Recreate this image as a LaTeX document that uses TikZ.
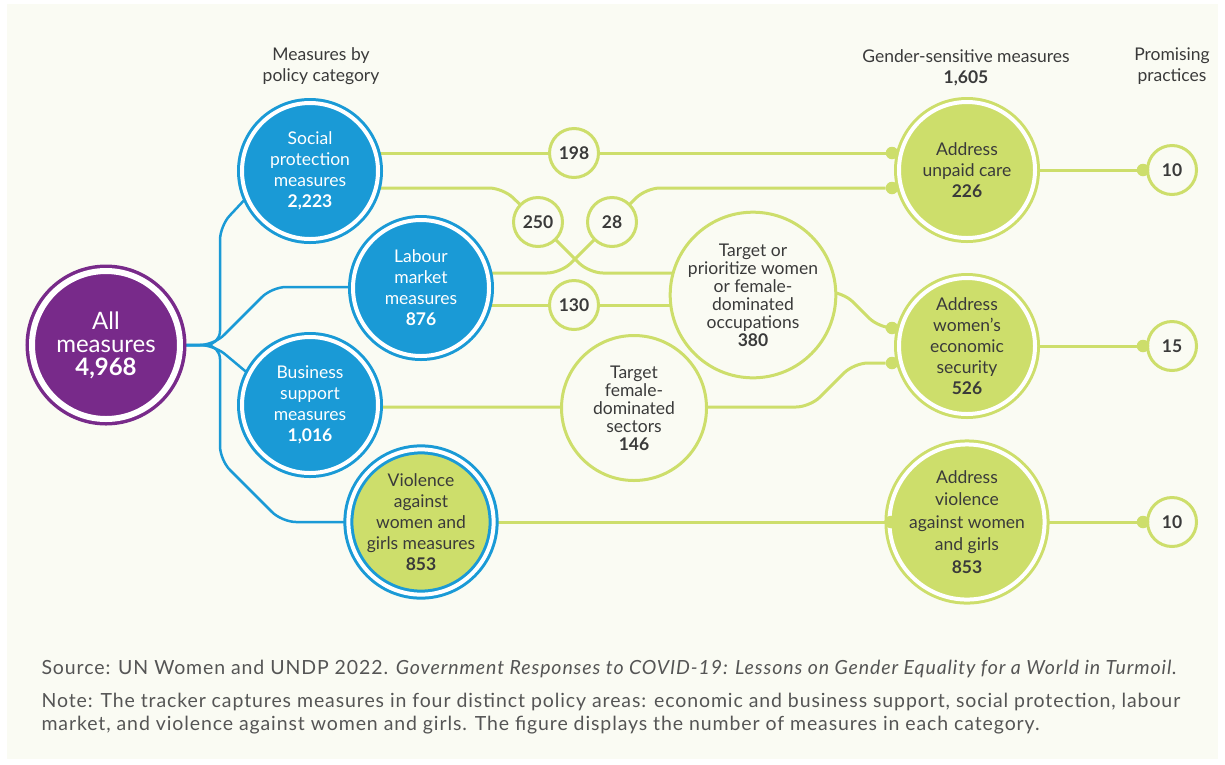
\documentclass[tikz,border=0pt]{standalone}
\usepackage{fontspec}
\setmainfont{Lato}
\usetikzlibrary{positioning}
\definecolor{cream}{HTML}{FAFBF3}
\definecolor{unblue}{HTML}{1A9AD6}
\definecolor{unpurple}{HTML}{782A8A}
\definecolor{unlime}{HTML}{CDDE6B}
\definecolor{inkgray}{HTML}{3A3A3A}
\definecolor{footgray}{HTML}{555555}
\pgfdeclarelayer{paper}
\pgfdeclarelayer{wires}
\pgfsetlayers{paper,wires,main}

\begin{document}
\begin{tikzpicture}[x=1pt, y=-1pt,
  txt/.style={font=\fontsize{17.5}{21}\selectfont, align=center, text=inkgray},
  bigc/.style={circle, inner sep=0pt, minimum size=136pt, line width=3pt,
    double=white, double distance=4pt, txt},
  catc/.style={bigc, fill=unblue, draw=unblue, text=white},
  addc/.style={bigc, fill=unlime, draw=unlime},
  openc/.style={circle, inner sep=0pt, draw=unlime, line width=3pt, fill=cream, txt,
    font=\fontsize{17.5}{18}\selectfont},
  numc/.style={openc, minimum size=49pt, font=\fontsize{17.5}{20}\selectfont\bfseries},
  gdot/.style={circle, fill=unlime, inner sep=0pt, minimum size=12.5pt},
  gline/.style={draw=unlime, line width=3pt, rounded corners=14pt},
  bline/.style={draw=unblue, line width=2.5pt, rounded corners=14pt},
  foot/.style={font=\fontsize{19.5}{23}\selectfont\addfontfeature{LetterSpace=4.6},
    text=footgray, anchor=base west}]
  \useasboundingbox (0,0) rectangle (1225,764);
  \begin{pgfonlayer}{paper}
    \fill[white] (0,0) rectangle (1225,764);
    \fill[cream] (7,4) rectangle (1218,759);
  \end{pgfonlayer}

  % column headers
  \node[txt] (hcat) at (321,66) {Measures by\\policy category};
  \node[txt] (hgen) at (966,68) {Gender-sensitive measures\\\textbf{1,605}};
  \node[txt] (hpro) at (1172,66) {Promising\\practices};

  % all measures and the four policy categories
  \node[bigc, fill=unpurple, draw=unpurple, text=white, minimum size=148pt,
    line width=3.5pt, double distance=6pt, font=\fontsize{24}{23}\selectfont]
    (all) at (106,345) {All\\measures\\\textbf{4,968}};
  \node[catc] (soc) at (310,171) {Social\\protection\\measures\\\textbf{2,223}};
  \node[catc] (lab) at (421,288) {Labour\\market\\measures\\\textbf{876}};
  \node[catc] (bus) at (310,405) {Business\\support\\measures\\\textbf{1,016}};
  \node[catc, fill=unlime, text=inkgray] (vio) at (421,522)
    {Violence\\against\\women and\\girls measures\\\textbf{853}};

  % overlaps in the middle
  \node[numc] (n198) at (574,153) {198};
  \node[numc] (n250) at (538,222) {250};
  \node[numc] (n28) at (612,222) {28};
  \node[numc] (n130) at (574,305) {130};
  \node[openc, minimum size=153pt] (tp) at (753,295)
    {Target or\\prioritize women\\or female-\\dominated\\occupations\\\textbf{380}};
  \node[openc, minimum size=145pt] (sec) at (634,408)
    {Target\\female-\\dominated\\sectors\\\textbf{146}};

  % gender-sensitive measures
  \node[addc] (care) at (967,170) {Address\\unpaid care\\\textbf{226}};
  \node[addc] (econ) at (967,346) {Address\\women’s\\economic\\security\\\textbf{526}};
  \node[addc, font=\fontsize{17.5}{22.5}\selectfont] (viol) at (967,522)
    {Address\\violence\\against women\\and girls\\\textbf{853}};
  \node[gdot] (dc1) at (892,153) {};
  \node[gdot] (dc2) at (892,188) {};
  \node[gdot] (de1) at (892,328) {};
  \node[gdot] (de2) at (892,363) {};
  \node[gdot] (dv) at (891,522) {};

  % promising practices
  \foreach \src/\nm/\yy/\val in {care/pcare/170/10, econ/pecon/346/15, viol/pviol/522/10} {
    \node[numc] (\nm) at (1172,\yy) {\val};
    \node[gdot] (\nm-dot) at (1143,\yy) {};
    \begin{pgfonlayer}{wires}
      \draw[gline] (\src.center) -- (\nm-dot);
    \end{pgfonlayer}
  }

  \begin{pgfonlayer}{wires}
    % blue branches
    \draw[bline] (all.center) -- (220,345) -- (220,226) -- (soc.203);
    \draw[bline] (all.center) -- (214,345) -- (272,287) -- (lab.center |- 0,287);
    \draw[bline] (all.center) -- (214,345) -- (bus.153);
    \draw[bline] (all.center) -- (220,345) -- (220,460) -- (282,522) -- (vio.center);
    % green flows
    \draw[gline] (soc.center |- n198) -- (n198) -- (dc1);
    \draw[gline] (soc.center |- dc2) -- (503,188) -- (n250.center) -- (589,273) -- (tp.center |- 0,273);
    \draw[gline] (lab.center |- 0,273) -- (561,273) -- (n28.center) -- (646,188) -- (dc2);
    \draw[gline] (lab.center |- n130) -- (n130) -- (tp.center |- n130);
    \draw[gline] (tp.center |- 0,292) -- (843,292) -- (879,328) -- (de1);
    \draw[gline] (bus.center |- 0,407) -- (sec.center |- 0,407) -- (810,407) -- (854,363) -- (de2);
    \draw[gline] (vio.center) -- (dv);
  \end{pgfonlayer}

  % source and note
  \node[foot] (src) at (38,674) {Source: UN Women and UNDP 2022. \textit{Government Responses to COVID-19: Lessons on Gender Equality for a World in Turmoil.}};
  \node[foot] (note1) at (38,707) {Note: The tracker captures measures in four distinct policy areas: economic and business support, social protection, labour};
  \node[foot] (note2) at (38,730) {market, and violence against women and girls. The figure displays the number of measures in each category.};
\end{tikzpicture}
\end{document}
